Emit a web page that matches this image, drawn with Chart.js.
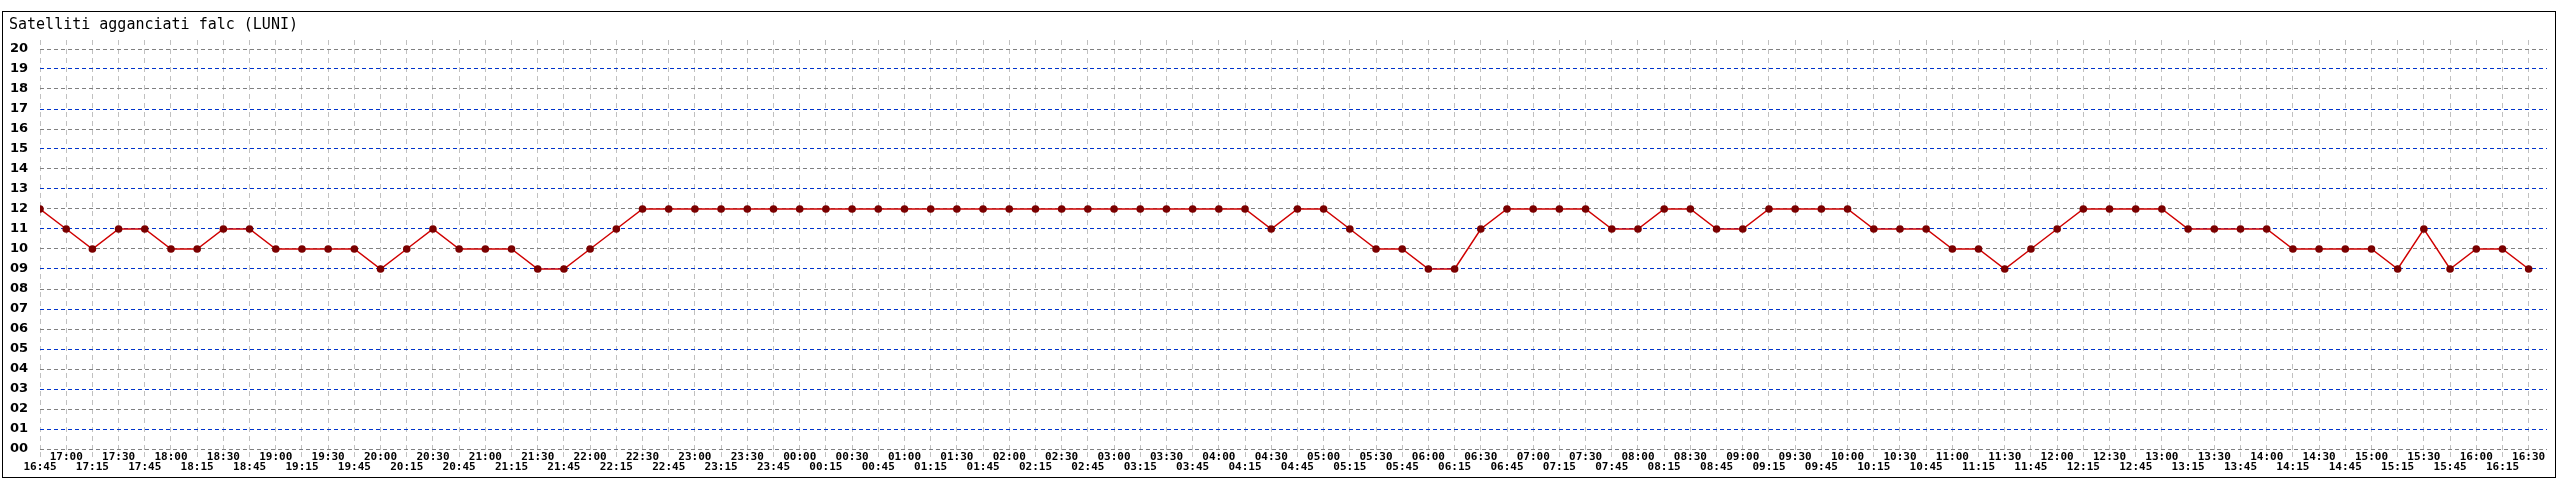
<!DOCTYPE html>
<html>
<head>
<meta charset="utf-8">
<script src="https://cdn.jsdelivr.net/npm/chart.js@4/dist/chart.umd.min.js"></script>
<style>
  body { margin: 0; background: #fff; }
  canvas { display: block; }
</style>
</head>
<body>
<canvas id="chart" width="2560" height="480"></canvas>
<script>
const title = 'Satelliti agganciati falc (LUNI)'

const times = [
  '16:45',
  '17:00','17:15','17:30','17:45','18:00','18:15','18:30','18:45',
  '19:00','19:15','19:30','19:45','20:00','20:15','20:30','20:45',
  '21:00','21:15','21:30','21:45','22:00','22:15','22:30','22:45',
  '23:00','23:15','23:30','23:45','00:00','00:15','00:30','00:45',
  '01:00','01:15','01:30','01:45','02:00','02:15','02:30','02:45',
  '03:00','03:15','03:30','03:45','04:00','04:15','04:30','04:45',
  '05:00','05:15','05:30','05:45','06:00','06:15','06:30','06:45',
  '07:00','07:15','07:30','07:45','08:00','08:15','08:30','08:45',
  '09:00','09:15','09:30','09:45','10:00','10:15','10:30','10:45',
  '11:00','11:15','11:30','11:45','12:00','12:15','12:30','12:45',
  '13:00','13:15','13:30','13:45','14:00','14:15','14:30','14:45',
  '15:00','15:15','15:30','15:45','16:00','16:15','16:30'
]

const satellites = [
  12,11,10,11,11,10,10,11,11,10,
  10,10,10,9,10,11,10,10,10,9,
  9,10,11,12,12,12,
  12,12,12,12,12,12,12,12,12,12,12,12,12,12,12,12,12,12,12,12,12,
  11,12,12,11,10,10,9,9,11,
  12,12,12,12,11,11,12,12,11,11,
  12,12,12,12,11,11,11,10,10,9,
  10,11,12,12,12,12,11,11,11,11,
  10,10,10,10,9,11,9,10,10,9
]

const yTicks = [0,1,2,3,4,5,6,7,8,9,10,11,12,13,14,15,16,17,18,19,20]

// frame + title, drawn like the original image
const framePlugin = {
    id: 'frame',
    afterDraw: (chart) => {
        const ctx = chart.ctx
        ctx.save()
        ctx.strokeStyle = '#000'
        ctx.lineWidth = 1
        ctx.strokeRect(2.5, 11.5, 2553, 466)
        ctx.fillStyle = '#000'
        ctx.font = '15px "DejaVu Sans Mono"'
        ctx.textBaseline = 'alphabetic'
        ctx.fillText(title, 9, 29)
        ctx.restore()
    }
}

const ctx = document.getElementById('chart').getContext('2d')
const myChart = new Chart(ctx, {
    type: 'line',
    data: {
        datasets: [{
            data: satellites.map((v, i) => ({x: i, y: v})),
            borderColor: '#d00000',
            borderWidth: 1.5,
            pointBackgroundColor: '#7a0000',
            pointBorderColor: '#7a0000',
            pointRadius: 3.8,
            pointBorderWidth: 0,
            tension: 0
        }]
    },
    options: {
        responsive: false,
        animation: false,
        layout: { padding: { left: 10, right: 13, top: 40, bottom: 0 } },
        plugins: {
            legend: { display: false },
            tooltip: { enabled: false }
        },
        scales: {
            x: {
                type: 'linear',
                min: 0,
                max: 95.7,
                afterBuildTicks: (scale) => {
                    scale.ticks = times.map((t, i) => ({value: i}))
                },
                afterFit: (scale) => { scale.height = 28 },
                grid: {
                    color: '#c0c0c0',
                    lineWidth: 1,
                    drawTicks: true,
                    tickLength: 6,
                    tickBorderDash: [5, 4]
                },
                border: { display: false, dash: [5, 4] },
                ticks: {
                    autoSkip: false,
                    maxRotation: 0,
                    minRotation: 0,
                    padding: -6,
                    color: '#000',
                    font: { family: '"DejaVu Sans Mono"', size: 11, weight: 'bold', lineHeight: '10px' },
                    callback: (value) => value % 2 ? [times[value], ''] : ['', times[value]]
                }
            },
            y: {
                min: -0.15,
                max: 20.45,
                afterBuildTicks: (scale) => {
                    scale.ticks = yTicks.map(v => ({value: v}))
                },
                afterFit: (scale) => { scale.width = 30 },
                grid: {
                    color: (c) => c.tick && c.tick.value % 2 ? '#0033cc' : '#808080',
                    lineWidth: 1,
                    drawTicks: false
                },
                border: { display: false, dash: [4, 3] },
                ticks: {
                    crossAlign: 'far',
                    padding: 0,
                    color: '#000',
                    font: { family: '"DejaVu Sans"', size: 13, weight: 'bold' },
                    callback: (value) => String(value).padStart(2, '0')
                }
            }
        }
    },
    plugins: [framePlugin]
})
</script>
</body>
</html>
